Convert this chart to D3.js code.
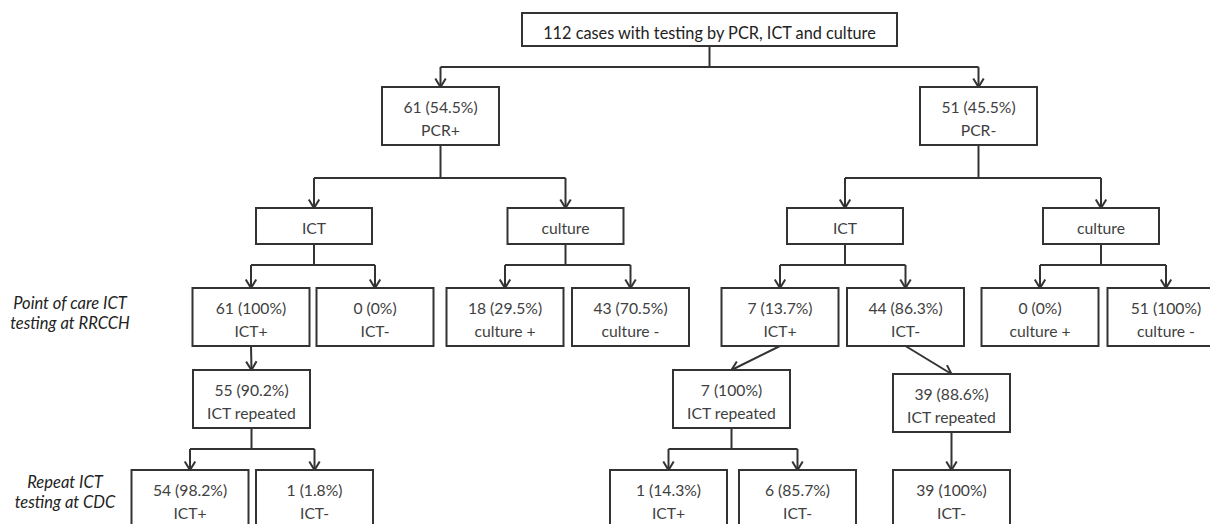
<!DOCTYPE html>
<html>
<head>
<meta charset="utf-8">
<script src="https://cdnjs.cloudflare.com/ajax/libs/d3/7.8.5/d3.min.js"></script>
<style>
  body { margin: 0; background: #fff; }
  text { font-family: Lato, "Open Sans", sans-serif; }
</style>
</head>
<body>
<svg id="chart"></svg>
<script>
// ===============================
// Data
// ===============================
const rootLabel = "112 cases with testing by PCR, ICT and culture";

const pcrLabels = ["PCR+", "PCR-"];
const pcrCounts = [61, 51];
const pcrPercents = ["54.5%", "45.5%"];

const testLabels = ["ICT", "culture", "ICT", "culture"];

const pocLabels = ["ICT+", "ICT-", "culture +", "culture -", "ICT+", "ICT-", "culture +", "culture -"];
const pocCounts = [61, 0, 18, 43, 7, 44, 0, 51];
const pocPercents = ["100%", "0%", "29.5%", "70.5%", "13.7%", "86.3%", "0%", "100%"];

const repeatParents = [0, 4, 5];   // which point-of-care box each repeat comes from
const repeatCounts = [55, 7, 39];
const repeatPercents = ["90.2%", "100%", "88.6%"];

const cdcParents = [0, 0, 1, 1, 2];
const cdcLabels = ["ICT+", "ICT-", "ICT+", "ICT-", "ICT-"];
const cdcCounts = [54, 1, 1, 6, 39];
const cdcPercents = ["98.2%", "1.8%", "14.3%", "85.7%", "100%"];

const stageLabels = [
    ["Point of care ICT", "testing at RRCCH"],
    ["Repeat ICT", "testing at CDC"]
];

// ===============================
// Layout (box centres / tops per level)
// ===============================
const width = 1210, height = 524;

const levelCenters = [
    [709.5],
    [440.5, 978.5],
    [314, 565.5, 845, 1101],
    [251, 375, 505, 630.5, 780, 905.5, 1040, 1166],
    [251.5, 731.5, 951.5],
    [190, 314.5, 668.5, 797.5, 951.5]
];
const levelTops = [
    [13],
    [87, 87],
    [208, 208, 208, 208],
    [288, 288, 288, 288, 288, 288, 288, 288],
    [370, 370, 374],
    [470, 470, 470, 470, 470]
];
const levelWidths = [375, 117, 116, 117, 117, 117];
const elbowY = { 0: 67, 1: 178, 2: 265, 4: 449 };
const stageCenters = [[70, 303, 323], [65, 482, 502]];

const lineColor = "#333";
const textColor = "#404040";

// ===============================
// Build hierarchy
// ===============================
const rows = [{ id: "root", parent: "", level: 0, idx: 0, lines: [rootLabel] }];

pcrLabels.forEach((l, i) => rows.push({
    id: "p" + i, parent: "root", level: 1, idx: i,
    lines: [`${pcrCounts[i]} (${pcrPercents[i]})`, l]
}));
testLabels.forEach((l, i) => rows.push({
    id: "t" + i, parent: "p" + Math.floor(i / 2), level: 2, idx: i, lines: [l]
}));
pocLabels.forEach((l, i) => rows.push({
    id: "c" + i, parent: "t" + Math.floor(i / 2), level: 3, idx: i,
    lines: [`${pocCounts[i]} (${pocPercents[i]})`, l]
}));
repeatCounts.forEach((n, i) => rows.push({
    id: "r" + i, parent: "c" + repeatParents[i], level: 4, idx: i,
    lines: [`${n} (${repeatPercents[i]})`, "ICT repeated"]
}));
cdcLabels.forEach((l, i) => rows.push({
    id: "d" + i, parent: "r" + cdcParents[i], level: 5, idx: i,
    lines: [`${cdcCounts[i]} (${cdcPercents[i]})`, l]
}));

const root = d3.stratify()
    .id(d => d.id)
    .parentId(d => d.parent || null)(rows);

root.each(n => {
    const d = n.data;
    n.cx = levelCenters[d.level][d.idx];
    n.top = levelTops[d.level][d.idx];
    n.w = levelWidths[d.level];
    n.h = d.lines.length === 1 ? (d.level === 0 ? 33 : 36) : 58;
    n.bottom = n.top + n.h;
});

// ===============================
// Draw
// ===============================
const svg = d3.select("#chart")
    .attr("width", width)
    .attr("height", height);

const links = svg.append("g")
    .attr("fill", "none")
    .attr("stroke", lineColor)
    .attr("stroke-width", 2);

function arrowHead(x, y, angle) {
    // open V pointing along angle (radians), tip at x,y
    const len = 10, spread = 0.55;
    const a1 = angle + Math.PI - spread, a2 = angle + Math.PI + spread;
    return `M${x + len * Math.cos(a1)},${y + len * Math.sin(a1)}L${x},${y}L${x + len * Math.cos(a2)},${y + len * Math.sin(a2)}`;
}

root.each(n => {
    if (!n.children) return;
    if (n.children.length === 1) {
        const c = n.children[0];
        const x0 = n.cx, y0 = n.bottom, x1 = c.cx, y1 = c.top;
        const ang = Math.atan2(y1 - y0, x1 - x0);
        links.append("path").attr("d", `M${x0},${y0}L${x1},${y1}`);
        links.append("path").attr("d", arrowHead(x1, y1, ang));
    } else {
        const my = elbowY[n.data.level];
        const xs = n.children.map(c => c.cx);
        links.append("path").attr("d", `M${n.cx},${n.bottom}V${my}`);
        links.append("path").attr("d", `M${d3.min(xs)},${my}H${d3.max(xs)}`);
        n.children.forEach(c => {
            links.append("path").attr("d", `M${c.cx},${my}V${c.top}`);
            links.append("path").attr("d", arrowHead(c.cx, c.top, Math.PI / 2));
        });
    }
});

// Boxes
const boxes = svg.append("g")
    .selectAll("g")
    .data(root.descendants())
    .join("g");

boxes.append("rect")
    .attr("x", d => d.cx - d.w / 2)
    .attr("y", d => d.top)
    .attr("width", d => d.w)
    .attr("height", d => d.h)
    .attr("fill", "#fff")
    .attr("stroke", lineColor)
    .attr("stroke-width", 2);

boxes.each(function(d) {
    const g = d3.select(this);
    d.data.lines.forEach((line, i) => {
        g.append("text")
            .attr("x", d.cx)
            .attr("y", d.top + 25.5 + i * 23)
            .attr("text-anchor", "middle")
            .attr("font-size", d.data.level === 0 ? 16.3 : 15.7)
            .attr("fill", d.data.level === 0 ? "#222" : textColor)
            .text(line);
    });
});

// Stage labels on the left
stageLabels.forEach((lines, s) => {
    lines.forEach((line, i) => {
        svg.append("text")
            .attr("x", stageCenters[s][0])
            .attr("y", stageCenters[s][1 + i] + 5.5)
            .attr("text-anchor", "middle")
            .attr("font-size", 16.5)
            .attr("font-style", "italic")
            .attr("fill", "#222")
            .text(line);
    });
});
</script>
</body>
</html>
